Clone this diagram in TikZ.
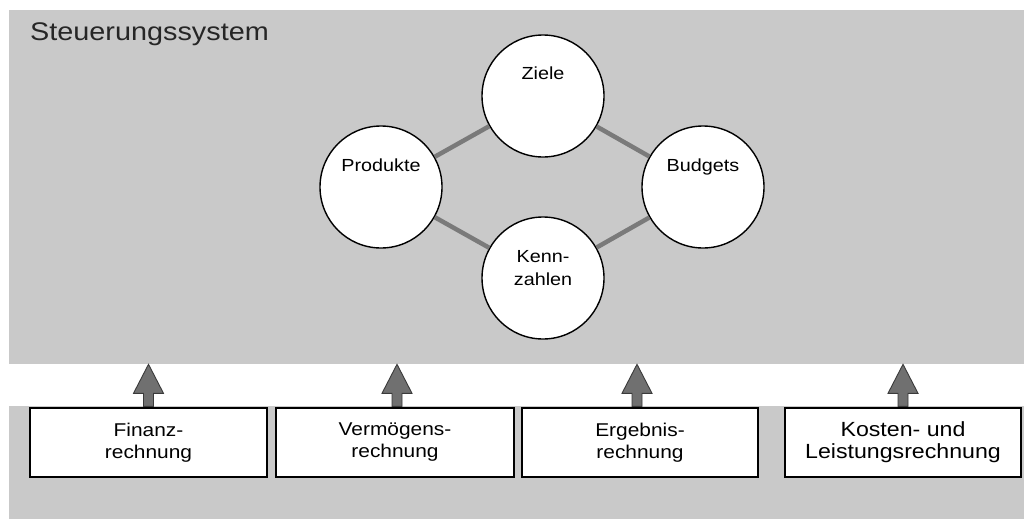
\documentclass[tikz,border=0pt]{standalone}
\usepackage{fontspec}
\setmainfont{Liberation Sans}[FakeStretch=1.13]
\definecolor{panel}{HTML}{C9C9C9}
\definecolor{linkgray}{HTML}{7A7A7A}
\definecolor{arrowfill}{HTML}{707070}
\definecolor{arrowline}{HTML}{3A3A3A}
\begin{document}
\begin{tikzpicture}[x=1pt,y=-1pt,
  panelbox/.style={fill=panel,draw=none},
  ring/.style={circle,draw=black,line width=1.4pt,fill=white,minimum size=122pt,inner sep=0pt},
  ringtext/.style={font=\fontsize{17.5}{22.5}\selectfont,align=center,inner sep=0pt},
  link/.style={draw=linkgray,line width=4.5pt},
  srcbox/.style={draw=black,line width=1.4pt,fill=white,minimum height=69pt,inner sep=0pt,align=center,font=\fontsize{18.5}{22}\selectfont},
  fat/.style={fill=arrowfill,draw=arrowline,line width=0.9pt,line join=miter},
  pics/fatarrow/.style={code={\draw[fat] (-5,-1) -- (-5,-14) -- (-15,-14) -- (0,-43) -- (15,-14) -- (5,-14) -- (5,-1) -- cycle;}}]
\useasboundingbox (0,0) rectangle (1024,519);
\fill[white] (0,0) rectangle (1024,519);
% panels
\path[panelbox] (9,10) rectangle (1024,364);
\path[panelbox] (9,406) rectangle (1024,519);
\node[anchor=base west,inner sep=0pt,font=\fontsize{25.5}{30}\selectfont,text=black!85] (title) at (30,41) {Steuerungssystem};
% circles
\node[ring] (ziele) at (543,96) {};
\node[ring] (prod) at (381,187) {};
\node[ring] (budg) at (703,187) {};
\node[ring] (kenn) at (543,278) {};
\draw[link] (prod) -- (ziele);
\draw[link] (ziele) -- (budg);
\draw[link] (prod) -- (kenn);
\draw[link] (kenn) -- (budg);
\node[ringtext,anchor=base] (tziele) at (543,79.5) {Ziele};
\node[ringtext,anchor=base] (tprod) at (381,171) {Produkte};
\node[ringtext,anchor=base] (tbudg) at (703,171) {Budgets};
\node[ringtext] (tkenn) at (543,268) {Kenn-\\zahlen};
% source boxes
\node[srcbox,minimum width=237pt] (b1) at (148.5,442.5) {Finanz-\\rechnung};
\node[srcbox,minimum width=238pt] (b2) at (395,442.5) {Vermögens-\\rechnung};
\node[srcbox,minimum width=236pt] (b3) at (640,442.5) {Ergebnis-\\rechnung};
\node[srcbox,minimum width=236pt,font=\fontsize{20.5}{22}\selectfont] (b4) at (903,442.5) {Kosten- und\\Leistungsrechnung};
% arrows
\pic at (b1.north) {fatarrow};
\pic at ([xshift=2pt]b2.north) {fatarrow};
\pic at ([xshift=-3pt]b3.north) {fatarrow};
\pic at (b4.north) {fatarrow};
\end{tikzpicture}
\end{document}
